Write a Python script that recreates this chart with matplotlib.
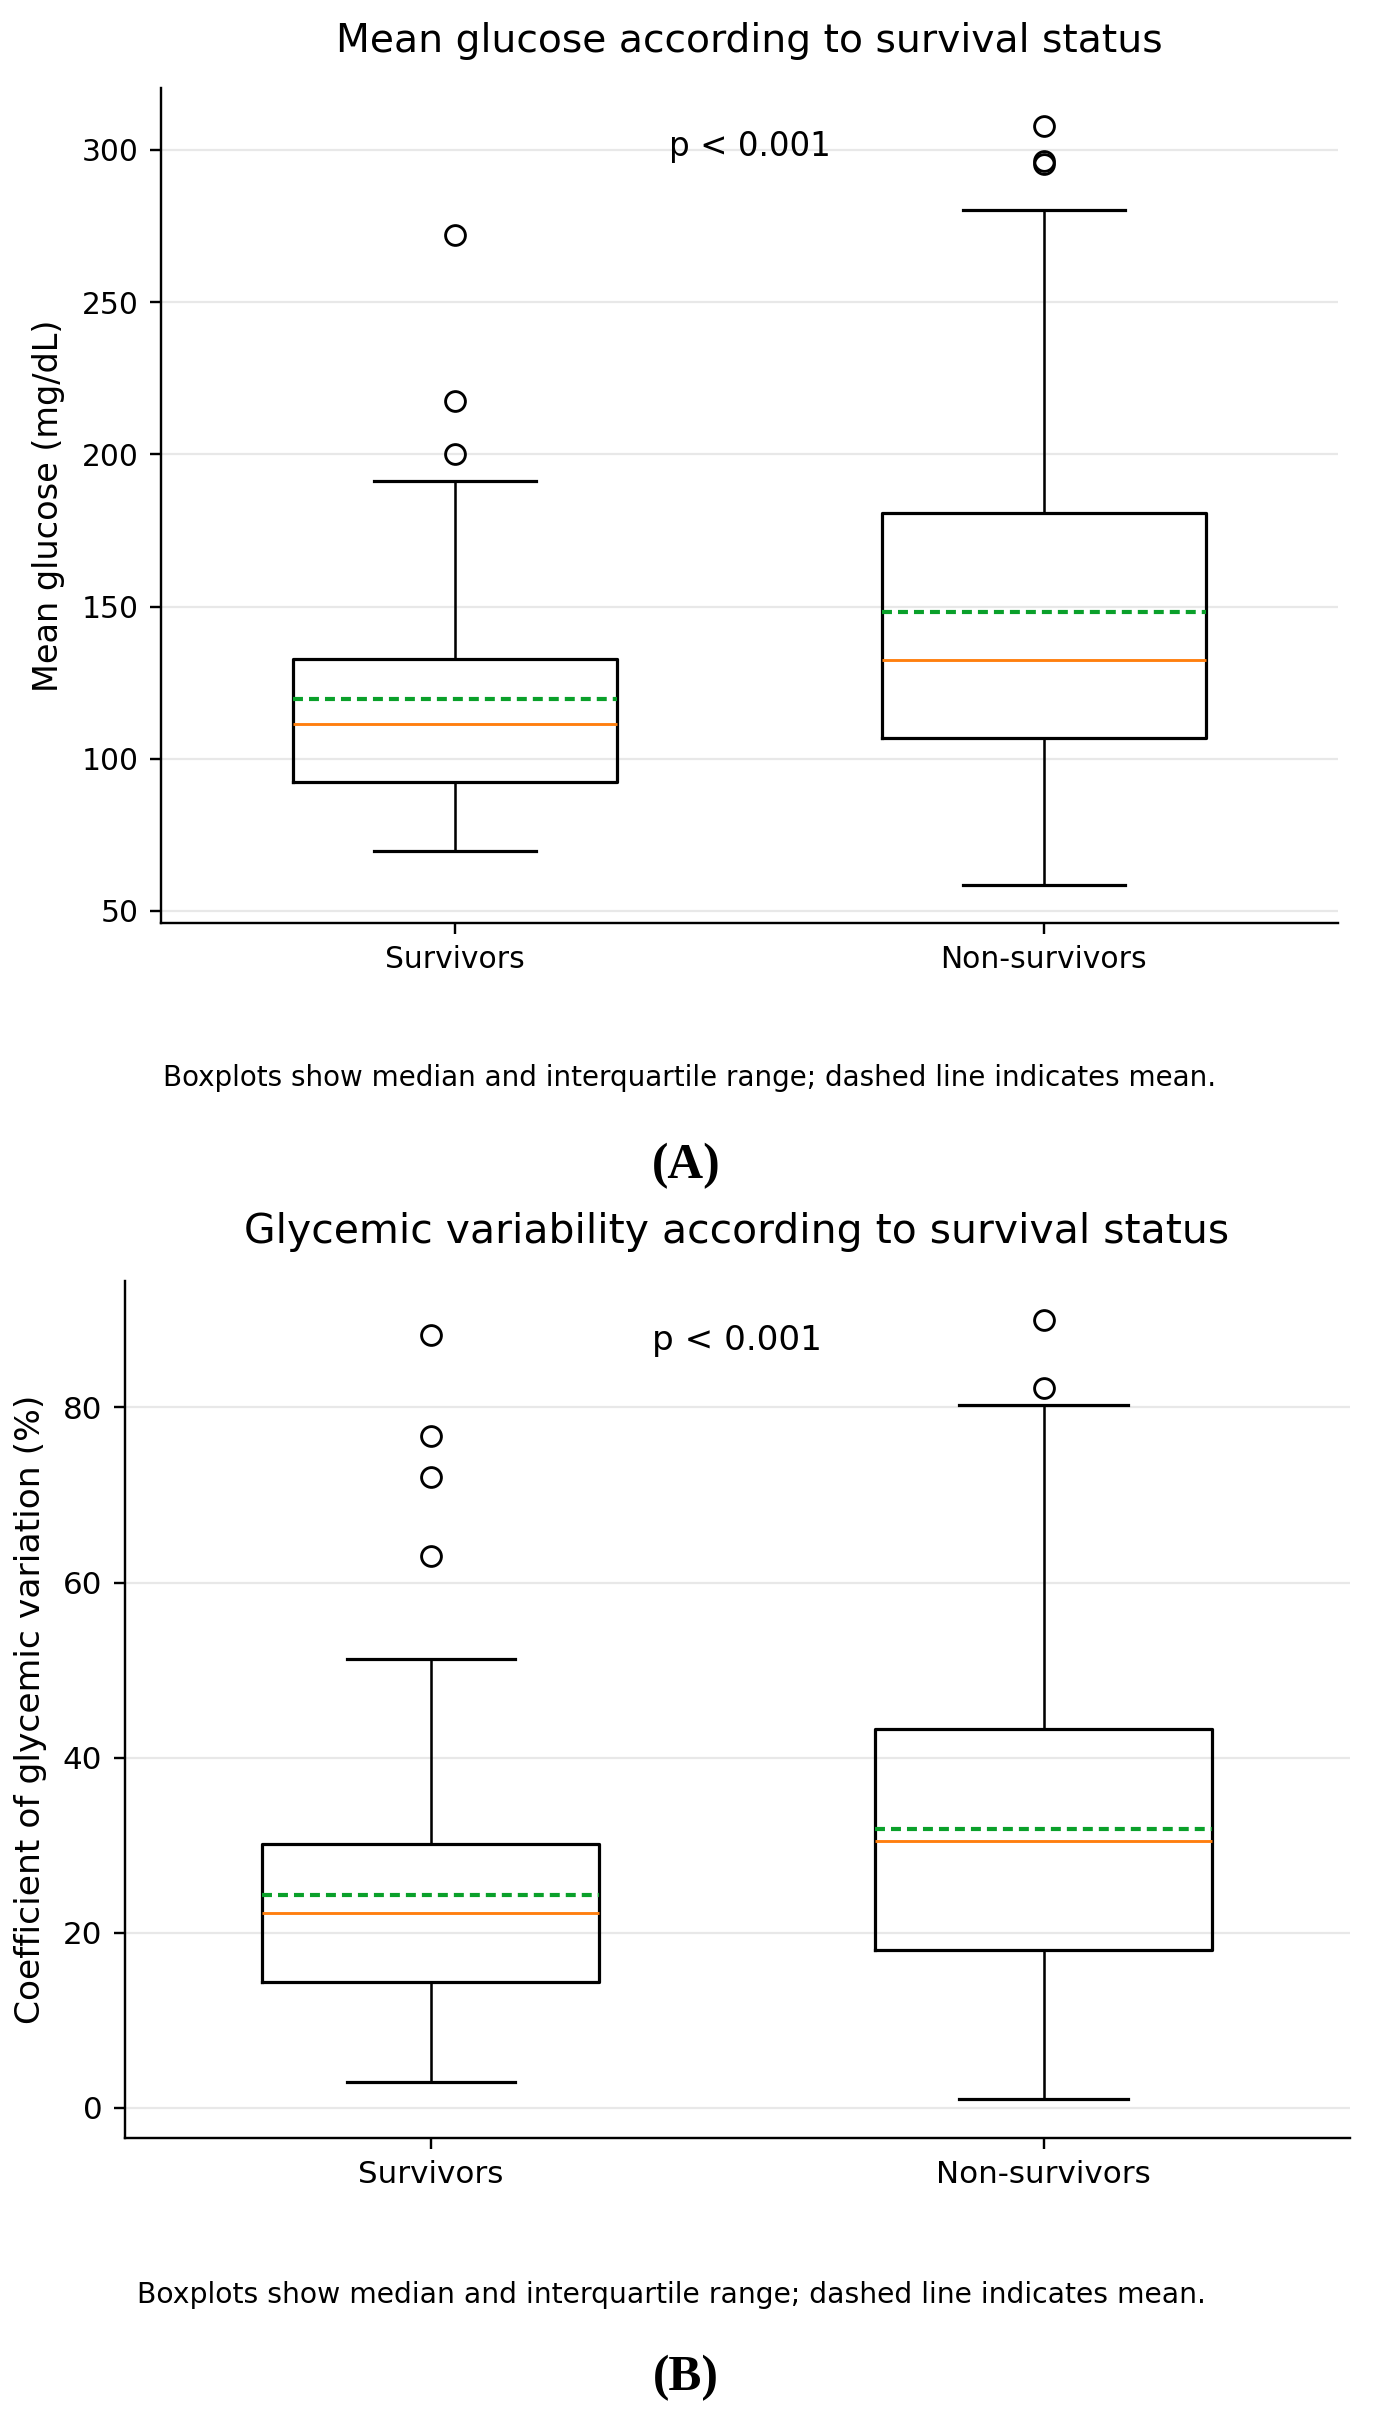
import matplotlib
matplotlib.use("Agg")
import matplotlib.pyplot as plt

# values (mg/dL and %)
groups = ['Survivors', 'Non-survivors']

glucose_q1 = [92.3, 106.8]
glucose_median = [111.4, 132.5]
glucose_q3 = [132.7, 180.8]
glucose_mean = [119.7, 148.1]
glucose_whislo = [69.6, 58.5]
glucose_whishi = [191.1, 280.2]
glucose_fliers = [[200.0, 217.5, 272.1], [295.3, 296.4, 307.9]]

cv_q1 = [14.4, 18.0]
cv_median = [22.3, 30.5]
cv_q3 = [30.1, 43.3]
cv_mean = [24.3, 31.9]
cv_whislo = [3.0, 1.0]
cv_whishi = [51.3, 80.3]
cv_fliers = [[63.0, 72.1, 76.7, 88.3], [82.2, 90.0]]

caption = 'Boxplots show median and interquartile range; dashed line indicates mean.'

DPI = 230
W, H = 1382, 2422


def make_stats(q1, med, q3, mean, lo, hi, fliers):
    stats = []
    for i, name in enumerate(groups):
        stats.append({
            'label': name, 'q1': q1[i], 'med': med[i], 'q3': q3[i],
            'mean': mean[i], 'whislo': lo[i], 'whishi': hi[i],
            'fliers': fliers[i],
        })
    return stats


def draw_panel(ax, stats, fs_tick):
    ax.bxp(stats, positions=[1, 2], widths=0.55, showmeans=True, meanline=True,
           boxprops=dict(linewidth=1.0, color='black'),
           whiskerprops=dict(linewidth=0.8, color='black'),
           capprops=dict(linewidth=1.0, color='black'),
           medianprops=dict(linewidth=0.9, color='#ff7f0e'),
           meanprops=dict(linewidth=1.3, color='#0aa02a', linestyle=(0, (2.4, 1.45))),
           flierprops=dict(marker='o', markersize=6.2, markerfacecolor='none',
                           markeredgecolor='black', markeredgewidth=0.9))
    ax.set_xlim(0.5, 2.5)
    ax.spines['top'].set_visible(False)
    ax.spines['right'].set_visible(False)
    for s in ['left', 'bottom']:
        ax.spines[s].set_linewidth(0.75)
    ax.yaxis.grid(True, color='#e8e8e8', linewidth=0.7)
    ax.set_axisbelow(True)
    ax.tick_params(axis='both', labelsize=fs_tick, width=0.75, length=3.5)


fig = plt.figure(figsize=(W / DPI, H / DPI), dpi=DPI)

# Panel A
ax_a = fig.add_axes([161 / W, 1 - 923 / H, 1177 / W, 835 / H])
draw_panel(ax_a, make_stats(glucose_q1, glucose_median, glucose_q3, glucose_mean,
                            glucose_whislo, glucose_whishi, glucose_fliers), 9.3)
ax_a.text(0.5, 0.95, 'p < 0.001', transform=ax_a.transAxes, ha='center', va='top', fontsize=10.2)
fig.text(749.5 / W, 1 - 52 / H, 'Mean glucose according to survival status',
         ha='center', va='baseline', fontsize=12.3)
fig.text(49 / W, 1 - 505.5 / H, 'Mean glucose (mg/dL)', rotation=90,
         ha='center', va='center', fontsize=10.5)
fig.text(163 / W, 1 - 1078 / H, caption, ha='left', va='center', fontsize=8.7)
fig.text(686 / W, 1 - 1166 / H, '(A)', ha='center', va='center', fontsize=15.5,
         family='Liberation Serif', weight='bold')

# Panel B
ax_b = fig.add_axes([124.5 / W, 1 - 2138 / H, 1225.5 / W, 857 / H])
draw_panel(ax_b, make_stats(cv_q1, cv_median, cv_q3, cv_mean,
                            cv_whislo, cv_whishi, cv_fliers), 9.7)
ax_b.text(0.5, 0.95, 'p < 0.001', transform=ax_b.transAxes, ha='center', va='top', fontsize=10.7)
fig.text(737 / W, 1 - 1243 / H, 'Glycemic variability according to survival status',
         ha='center', va='baseline', fontsize=12.8)
fig.text(31 / W, 1 - 1709.5 / H, 'Coefficient of glycemic variation (%)', rotation=90,
         ha='center', va='center', fontsize=10.8)
fig.text(137 / W, 1 - 2295 / H, caption, ha='left', va='center', fontsize=8.85)
fig.text(685.5 / W, 1 - 2378 / H, '(B)', ha='center', va='center', fontsize=15.5,
         family='Liberation Serif', weight='bold')

fig.savefig('out.png', dpi=DPI, facecolor='white')
